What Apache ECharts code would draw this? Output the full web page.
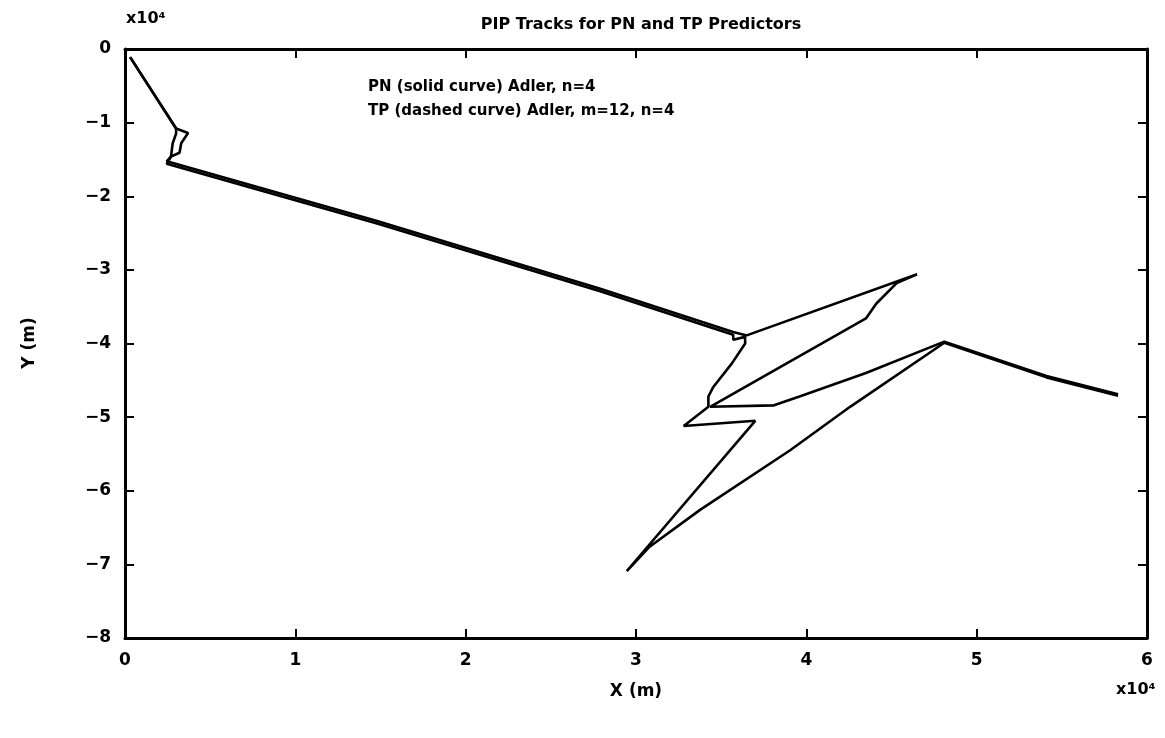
<!DOCTYPE html>
<html>
<head>
<meta charset="utf-8">
<script src="https://cdn.jsdelivr.net/npm/echarts@6/dist/echarts.min.js"></script>
<style>html,body{margin:0;padding:0;background:#fff;}#c{width:1165px;height:738px;}</style>
</head>
<body>
<div id="c"></div>
<script>
// Values in units of 1e4 m (as shown on the axes)
const pnX = [0.03, 0.30, 0.37, 0.33, 0.32, 0.27, 0.245, 1.48, 2.79, 3.57, 3.65, 4.65, 4.53, 4.41, 4.35, 3.435, 3.81, 3.96, 4.35, 4.81, 5.41, 5.83];
const pnY = [-0.11, -1.08, -1.14, -1.28, -1.41, -1.46, -1.525, -2.335, -3.255, -3.845, -3.89, -3.06, -3.18, -3.46, -3.66, -4.86, -4.84, -4.72, -4.40, -3.975, -4.44, -4.69];
const tpX = [0.03, 0.30, 0.30, 0.28, 0.27, 0.245, 1.48, 2.79, 3.57, 3.572, 3.64, 3.641, 3.563, 3.454, 3.425, 3.425, 3.28, 3.70, 2.946, 3.08, 3.376, 3.905, 4.257, 4.81, 5.41, 5.83];
const tpY = [-0.11, -1.08, -1.15, -1.28, -1.46, -1.56, -2.37, -3.29, -3.88, -3.95, -3.91, -4.00, -4.27, -4.59, -4.72, -4.86, -5.12, -5.05, -7.09, -6.76, -6.26, -5.45, -4.86, -3.99, -4.46, -4.71];
const xTicks = [0, 1, 2, 3, 4, 5, 6];
const yTicks = [0, -1, -2, -3, -4, -5, -6, -7, -8];
const titleText = 'PIP Tracks for PN and TP Predictors';
const note1 = 'PN (solid curve) Adler, n=4';
const note2 = 'TP (dashed curve) Adler, m=12, n=4';

const FONT = 'DejaVu Sans';
const chart = echarts.init(document.getElementById('c'), null, {renderer: 'canvas'});
const axisCommon = {
  type: 'value',
  axisLine: {show: true, onZero: false, lineStyle: {color: '#000', width: 3}},
  axisTick: {show: true, inside: true, length: 9, lineStyle: {color: '#000', width: 2}},
  splitLine: {show: false}
};
const labelStyle = {color: '#000', fontFamily: FONT, fontWeight: 'bold', fontSize: 17};
chart.setOption({
  animation: false,
  backgroundColor: '#fff',
  title: {
    text: titleText, left: 636, textAlign: 'center', top: 12,
    textStyle: {fontFamily: FONT, fontWeight: 'bold', fontSize: 16, color: '#000'}
  },
  grid: {left: 125, right: 18, top: 49, bottom: 100, containLabel: false},
  xAxis: [
    Object.assign({}, axisCommon, {position: 'bottom', min: xTicks[0], max: xTicks[xTicks.length-1], interval: 1,
      axisLabel: Object.assign({margin: 14}, labelStyle)}),
    Object.assign({}, axisCommon, {position: 'top', min: xTicks[0], max: xTicks[xTicks.length-1], interval: 1,
      axisLabel: {show: false}})
  ],
  yAxis: [
    Object.assign({}, axisCommon, {position: 'left', min: yTicks[yTicks.length-1], max: yTicks[0], interval: 1,
      axisLabel: Object.assign({margin: 14, formatter: v => (v < 0 ? '\u2212' + Math.abs(v) : '' + v)}, labelStyle)}),
    Object.assign({}, axisCommon, {position: 'right', min: yTicks[yTicks.length-1], max: yTicks[0], interval: 1,
      axisLabel: {show: false}})
  ],
  graphic: [
    {type: 'text', left: 126, top: 11, style: {text: 'x10\u2074', font: 'bold 16px ' + FONT, fill: '#000'}},
    {type: 'text', left: 1116, top: 682, style: {text: 'x10\u2074', font: 'bold 16px ' + FONT, fill: '#000'}},
    {type: 'text', x: 636, y: 692, style: {text: 'X (m)', font: 'bold 17px ' + FONT, fill: '#000', align: 'center', verticalAlign: 'middle'}},
    {type: 'text', x: 30, y: 343, rotation: Math.PI / 2, style: {text: 'Y (m)', font: 'bold 17px ' + FONT, fill: '#000', align: 'center', verticalAlign: 'middle'}},
    {type: 'text', left: 368, top: 80, style: {text: note1, font: 'bold 15px ' + FONT, fill: '#000'}},
    {type: 'text', left: 368, top: 104, style: {text: note2, font: 'bold 15px ' + FONT, fill: '#000'}}
  ],
  series: [
    {name: 'PN', type: 'line', xAxisIndex: 0, yAxisIndex: 0, showSymbol: false, symbol: 'none',
      data: pnX.map((x, i) => [x, pnY[i]]), lineStyle: {color: '#000', width: 2.6, type: 'solid'}},
    {name: 'TP', type: 'line', xAxisIndex: 0, yAxisIndex: 0, showSymbol: false, symbol: 'none',
      data: tpX.map((x, i) => [x, tpY[i]]), lineStyle: {color: '#000', width: 2.6, type: 'solid'}}
  ]
});
</script>
</body>
</html>
